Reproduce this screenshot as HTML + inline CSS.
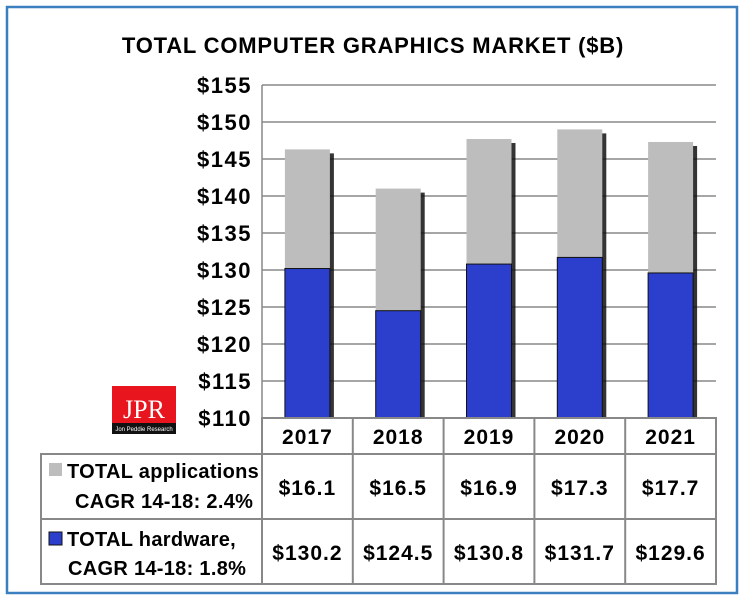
<!DOCTYPE html>
<html><head><meta charset="utf-8"><style>
body{margin:0;background:#fff;}
svg{display:block;font-family:"Liberation Sans",sans-serif;}
</style></head><body>
<svg width="747" height="611">
<rect x="7" y="7" width="730" height="586" fill="#fff" stroke="#3a7fc0" stroke-width="2.5"/>
<text x="373" y="53" text-anchor="middle" font-weight="bold" font-size="22" letter-spacing="0.8">TOTAL COMPUTER GRAPHICS MARKET ($B)</text>
<g id="grid"></g><g id="bars"></g><g id="table"></g>
<g>
<rect x="112" y="386" width="64" height="48" fill="#e8141e"/>
<rect x="112" y="423" width="64" height="11" fill="#111"/>
<text x="144" y="418" text-anchor="middle" font-family="Liberation Serif,serif" font-size="26" fill="#fff">JPR</text>
<text x="144" y="431" text-anchor="middle" font-size="6" fill="#fff">Jon Peddie Research</text>
</g>
</svg>
<script>
const years=["2017","2018","2019","2020","2021"];
const hardware=[130.2,124.5,130.8,131.7,129.6];
const applications=[16.1,16.5,16.9,17.3,17.7];
const yTicks=[110,115,120,125,130,135,140,145,150,155];
const appLabels=["$16.1","$16.5","$16.9","$17.3","$17.7"];
const hwLabels=["$130.2","$124.5","$130.8","$131.7","$129.6"];
const NS="http://www.w3.org/2000/svg";
const X0=262,X1=716,YT=85,YB=418,YMIN=110,YMAX=155;
const cw=(X1-X0)/years.length;
function y(v){return YB-(v-YMIN)/(YMAX-YMIN)*(YB-YT);}
function x(i){return X0+i*cw;}
function mk(t,a,p){const e=document.createElementNS(NS,t);for(const k in a)e.setAttribute(k,a[k]);p.appendChild(e);return e;}
const grid=document.getElementById('grid'),bars=document.getElementById('bars'),tb=document.getElementById('table');
yTicks.forEach(v=>{
 const l=mk('line',{x1:X0,x2:X1,y1:y(v),y2:y(v),stroke:'#888','stroke-width':1.5},grid);
 
 
 const t=mk('text',{x:252,y:y(v)+8,'text-anchor':'end','font-weight':'bold','font-size':22,'letter-spacing':1.5},grid);
 t.textContent='$'+v;
 
 
});
mk('line',{x1:X0,x2:X0,y1:YT,y2:YB,stroke:'#888','stroke-width':1.5},grid);
years.forEach((yr,i)=>{
 const bx=x(i)+cw/2-22.5,bw=45;
 const top=hardware[i]+applications[i];
 const sh=mk('rect',{x:bx+4,y:y(top)+4,width:bw,height:YB-y(top)-4,fill:'#111',opacity:0.85},bars);
 
 
 const a=mk('rect',{x:bx,y:y(top),width:bw,height:y(hardware[i])-y(top),fill:'#bdbdbd'},bars);
 
 
 const h=mk('rect',{x:bx,y:y(hardware[i]),width:bw,height:YB-y(hardware[i]),fill:'#2b3fcc',stroke:'#111','stroke-width':1},bars);
 
 
});
const R0=418,R1=454,R2=519,R3=584,TL=41;
const st={stroke:'#888','stroke-width':2,fill:'none'};
mk('rect',Object.assign({x:X0,y:R0,width:X1-X0,height:R3-R0},st),tb);
mk('rect',Object.assign({x:TL,y:R1,width:X0-TL,height:R3-R1},st),tb);
mk('line',Object.assign({x1:TL,x2:X1,y1:R1,y2:R1},st),tb);
mk('line',Object.assign({x1:TL,x2:X1,y1:R2,y2:R2},st),tb);
for(let i=1;i<years.length;i++)mk('line',Object.assign({x1:x(i),x2:x(i),y1:R0,y2:R3},st),tb);
function txt(s,xx,yy,name){const t=mk('text',{x:xx,y:yy,'text-anchor':'middle','font-weight':'bold','font-size':21,'letter-spacing':1},tb);t.textContent=s;return t;}
years.forEach((yr,i)=>{
 const cx=x(i)+cw/2;
 txt(yr,cx,444,'x-label-'+yr);
 txt(appLabels[i],cx,495,'app-value-'+yr);
 txt(hwLabels[i],cx,560,'hw-value-'+yr);
});
mk('rect',{x:49,y:463,width:13,height:13,fill:'#bdbdbd'},tb);
mk('rect',{x:49,y:532,width:13,height:13,fill:'#2b3fcc',stroke:'#111','stroke-width':1},tb);
function ltxt(s,xx,yy,name){const t=mk('text',{x:xx,y:yy,'font-weight':'bold','font-size':20,'letter-spacing':0.3},tb);t.textContent=s;}
ltxt('TOTAL applications',67,478,'legend-applications');
ltxt('CAGR 14-18: 2.4%',75,508,'legend-applications-cagr');
ltxt('TOTAL hardware,',67,546,'legend-hardware');
ltxt('CAGR 14-18: 1.8%',68,575,'legend-hardware-cagr');
</script>
</body></html>
